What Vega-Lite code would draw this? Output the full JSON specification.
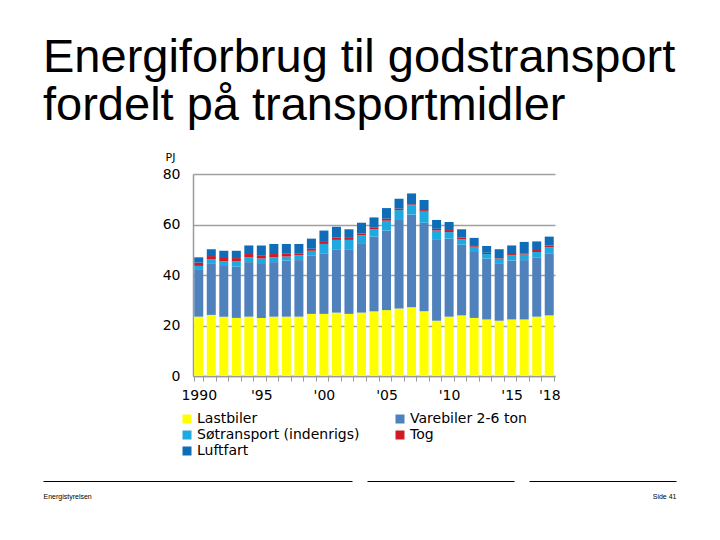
{
  "$schema": "https://vega.github.io/schema/vega-lite/v6.json",
  "background": "white",
  "padding": {"left": 43, "top": 34, "right": 10, "bottom": 10},
  "title": {
    "text": ["Energiforbrug til godstransport", "fordelt på transportmidler"],
    "anchor": "start",
    "frame": "bounds",
    "font": "Liberation Sans",
    "fontSize": 47,
    "fontWeight": "normal",
    "color": "black",
    "lineHeight": 48,
    "offset": 21
  },
  "spacing": 19,
  "resolve": {"legend": {"color": "independent"}},
  "vconcat": [
    {
      "spacing": 0,
      "resolve": {"legend": {"color": "independent"}},
      "hconcat": [
        {
          "width": 119,
          "height": 1,
          "data": {"values": [{"k": "a"}]},
          "mark": {"type": "point", "opacity": 0},
          "encoding": {}
        },
        {
          "width": 362,
          "height": 202,
          "data": {"values": [
            {"year":1990,"type":"Lastbiler","value":23.5},{"year":1990,"type":"Varebiler 2-6 ton","value":18.5},{"year":1990,"type":"Søtransport (indenrigs)","value":1.6},{"year":1990,"type":"Tog","value":1.3},{"year":1990,"type":"Luftfart","value":2.1},
            {"year":1991,"type":"Lastbiler","value":24.2},{"year":1991,"type":"Varebiler 2-6 ton","value":20.2},{"year":1991,"type":"Søtransport (indenrigs)","value":1.8},{"year":1991,"type":"Tog","value":1.3},{"year":1991,"type":"Luftfart","value":2.7},
            {"year":1992,"type":"Lastbiler","value":23.5},{"year":1992,"type":"Varebiler 2-6 ton","value":20.1},{"year":1992,"type":"Søtransport (indenrigs)","value":1.8},{"year":1992,"type":"Tog","value":1.3},{"year":1992,"type":"Luftfart","value":2.9},
            {"year":1993,"type":"Lastbiler","value":23.0},{"year":1993,"type":"Varebiler 2-6 ton","value":20.3},{"year":1993,"type":"Søtransport (indenrigs)","value":2.1},{"year":1993,"type":"Tog","value":1.3},{"year":1993,"type":"Luftfart","value":2.9},
            {"year":1994,"type":"Lastbiler","value":23.5},{"year":1994,"type":"Varebiler 2-6 ton","value":21.6},{"year":1994,"type":"Søtransport (indenrigs)","value":1.9},{"year":1994,"type":"Tog","value":1.3},{"year":1994,"type":"Luftfart","value":3.4},
            {"year":1995,"type":"Lastbiler","value":23.0},{"year":1995,"type":"Varebiler 2-6 ton","value":21.4},{"year":1995,"type":"Søtransport (indenrigs)","value":2.1},{"year":1995,"type":"Tog","value":1.3},{"year":1995,"type":"Luftfart","value":3.9},
            {"year":1996,"type":"Lastbiler","value":23.5},{"year":1996,"type":"Varebiler 2-6 ton","value":21.6},{"year":1996,"type":"Søtransport (indenrigs)","value":1.9},{"year":1996,"type":"Tog","value":1.3},{"year":1996,"type":"Luftfart","value":4.0},
            {"year":1997,"type":"Lastbiler","value":23.5},{"year":1997,"type":"Varebiler 2-6 ton","value":22.2},{"year":1997,"type":"Søtransport (indenrigs)","value":1.6},{"year":1997,"type":"Tog","value":1.3},{"year":1997,"type":"Luftfart","value":3.7},
            {"year":1998,"type":"Lastbiler","value":23.5},{"year":1998,"type":"Varebiler 2-6 ton","value":22.4},{"year":1998,"type":"Søtransport (indenrigs)","value":1.9},{"year":1998,"type":"Tog","value":0.8},{"year":1998,"type":"Luftfart","value":3.7},
            {"year":1999,"type":"Lastbiler","value":24.6},{"year":1999,"type":"Varebiler 2-6 ton","value":23.2},{"year":1999,"type":"Søtransport (indenrigs)","value":1.8},{"year":1999,"type":"Tog","value":0.8},{"year":1999,"type":"Luftfart","value":4.0},
            {"year":2000,"type":"Lastbiler","value":24.6},{"year":2000,"type":"Varebiler 2-6 ton","value":24.0},{"year":2000,"type":"Søtransport (indenrigs)","value":3.7},{"year":2000,"type":"Tog","value":0.8},{"year":2000,"type":"Luftfart","value":4.5},
            {"year":2001,"type":"Lastbiler","value":25.1},{"year":2001,"type":"Varebiler 2-6 ton","value":25.1},{"year":2001,"type":"Søtransport (indenrigs)","value":3.7},{"year":2001,"type":"Tog","value":1.0},{"year":2001,"type":"Luftfart","value":4.2},
            {"year":2002,"type":"Lastbiler","value":24.6},{"year":2002,"type":"Varebiler 2-6 ton","value":25.6},{"year":2002,"type":"Søtransport (indenrigs)","value":3.7},{"year":2002,"type":"Tog","value":0.8},{"year":2002,"type":"Luftfart","value":3.4},
            {"year":2003,"type":"Lastbiler","value":25.1},{"year":2003,"type":"Varebiler 2-6 ton","value":27.2},{"year":2003,"type":"Søtransport (indenrigs)","value":3.4},{"year":2003,"type":"Tog","value":0.8},{"year":2003,"type":"Luftfart","value":4.2},
            {"year":2004,"type":"Lastbiler","value":25.6},{"year":2004,"type":"Varebiler 2-6 ton","value":29.6},{"year":2004,"type":"Søtransport (indenrigs)","value":2.9},{"year":2004,"type":"Tog","value":0.8},{"year":2004,"type":"Luftfart","value":3.9},
            {"year":2005,"type":"Lastbiler","value":26.1},{"year":2005,"type":"Varebiler 2-6 ton","value":31.5},{"year":2005,"type":"Søtransport (indenrigs)","value":3.9},{"year":2005,"type":"Tog","value":0.8},{"year":2005,"type":"Luftfart","value":4.2},
            {"year":2006,"type":"Lastbiler","value":26.7},{"year":2006,"type":"Varebiler 2-6 ton","value":35.1},{"year":2006,"type":"Søtransport (indenrigs)","value":3.9},{"year":2006,"type":"Tog","value":0.6},{"year":2006,"type":"Luftfart","value":3.9},
            {"year":2007,"type":"Lastbiler","value":27.2},{"year":2007,"type":"Varebiler 2-6 ton","value":36.7},{"year":2007,"type":"Søtransport (indenrigs)","value":3.7},{"year":2007,"type":"Tog","value":0.4},{"year":2007,"type":"Luftfart","value":4.3},
            {"year":2008,"type":"Lastbiler","value":25.6},{"year":2008,"type":"Varebiler 2-6 ton","value":35.1},{"year":2008,"type":"Søtransport (indenrigs)","value":4.4},{"year":2008,"type":"Tog","value":0.6},{"year":2008,"type":"Luftfart","value":4.0},
            {"year":2009,"type":"Lastbiler","value":21.9},{"year":2009,"type":"Varebiler 2-6 ton","value":32.0},{"year":2009,"type":"Søtransport (indenrigs)","value":3.7},{"year":2009,"type":"Tog","value":0.7},{"year":2009,"type":"Luftfart","value":3.5},
            {"year":2010,"type":"Lastbiler","value":23.5},{"year":2010,"type":"Varebiler 2-6 ton","value":30.9},{"year":2010,"type":"Søtransport (indenrigs)","value":2.6},{"year":2010,"type":"Tog","value":0.8},{"year":2010,"type":"Luftfart","value":3.2},
            {"year":2011,"type":"Lastbiler","value":24.0},{"year":2011,"type":"Varebiler 2-6 ton","value":28.0},{"year":2011,"type":"Søtransport (indenrigs)","value":2.1},{"year":2011,"type":"Tog","value":0.8},{"year":2011,"type":"Luftfart","value":3.2},
            {"year":2012,"type":"Lastbiler","value":23.0},{"year":2012,"type":"Varebiler 2-6 ton","value":26.1},{"year":2012,"type":"Søtransport (indenrigs)","value":2.1},{"year":2012,"type":"Tog","value":0.3},{"year":2012,"type":"Luftfart","value":3.2},
            {"year":2013,"type":"Lastbiler","value":22.4},{"year":2013,"type":"Varebiler 2-6 ton","value":24.1},{"year":2013,"type":"Søtransport (indenrigs)","value":1.8},{"year":2013,"type":"Tog","value":0.5},{"year":2013,"type":"Luftfart","value":2.7},
            {"year":2014,"type":"Lastbiler","value":21.9},{"year":2014,"type":"Varebiler 2-6 ton","value":22.5},{"year":2014,"type":"Søtransport (indenrigs)","value":2.1},{"year":2014,"type":"Tog","value":0.2},{"year":2014,"type":"Luftfart","value":3.5},
            {"year":2015,"type":"Lastbiler","value":22.4},{"year":2015,"type":"Varebiler 2-6 ton","value":23.3},{"year":2015,"type":"Søtransport (indenrigs)","value":2.1},{"year":2015,"type":"Tog","value":0.5},{"year":2015,"type":"Luftfart","value":3.4},
            {"year":2016,"type":"Lastbiler","value":22.4},{"year":2016,"type":"Varebiler 2-6 ton","value":23.5},{"year":2016,"type":"Søtransport (indenrigs)","value":2.2},{"year":2016,"type":"Tog","value":0.5},{"year":2016,"type":"Luftfart","value":4.5},
            {"year":2017,"type":"Lastbiler","value":23.5},{"year":2017,"type":"Varebiler 2-6 ton","value":23.5},{"year":2017,"type":"Søtransport (indenrigs)","value":2.1},{"year":2017,"type":"Tog","value":0.8},{"year":2017,"type":"Luftfart","value":3.4},
            {"year":2018,"type":"Lastbiler","value":24.0},{"year":2018,"type":"Varebiler 2-6 ton","value":24.6},{"year":2018,"type":"Søtransport (indenrigs)","value":2.4},{"year":2018,"type":"Tog","value":0.7},{"year":2018,"type":"Luftfart","value":3.5}
          ]},
          "transform": [
            {"calculate": "indexof(['Lastbiler','Varebiler 2-6 ton','Søtransport (indenrigs)','Tog','Luftfart'], datum.type)", "as": "type_order"}
          ],
          "mark": {"type": "bar"},
          "encoding": {
            "x": {
              "field": "year", "type": "ordinal",
              "scale": {"paddingInner": 0.28, "paddingOuter": 0.1},
              "axis": {
                "title": null,
                "labelAngle": 0,
                "labelOverlap": false,
                "labelExpr": "datum.value == 1990 ? '1990' : (indexof([1995,2000,2005,2010,2015,2018], datum.value) >= 0 ? \"'\" + substring(toString(datum.value), 2) : '')",
                "labelFont": "DejaVu Sans", "labelFontSize": 14, "labelColor": "black",
                "labelPadding": 7,
                "tickBand": "extent", "tickSize": 5, "tickColor": "#9a9a9a",
                "domainColor": "#9a9a9a", "domainWidth": 1.5,
                "grid": false
              }
            },
            "y": {
              "field": "value", "type": "quantitative", "stack": "zero",
              "scale": {"domain": [0, 80], "nice": false},
              "axis": {
                "title": "PJ", "titleAngle": 0, "titleAlign": "left", "titleBaseline": "middle",
                "titleX": -28, "titleY": -17, "titleFont": "DejaVu Sans", "titleFontSize": 11,
                "titleFontWeight": "normal", "titleColor": "black",
                "values": [0, 20, 40, 60, 80],
                "ticks": false, "labelPadding": 13,
                "labelFont": "DejaVu Sans", "labelFontSize": 14, "labelColor": "black",
                "domainColor": "#9a9a9a", "domainWidth": 1.5,
                "grid": true, "gridColor": "#a0a0a0", "gridWidth": 1.5
              }
            },
            "color": {
              "field": "type", "type": "nominal",
              "sort": ["Lastbiler", "Varebiler 2-6 ton", "Søtransport (indenrigs)", "Tog", "Luftfart"],
              "scale": {
                "domain": ["Lastbiler", "Varebiler 2-6 ton", "Søtransport (indenrigs)", "Tog", "Luftfart"],
                "range": ["#FFFF00", "#4F81BD", "#1EA9E1", "#D01A24", "#0F6CB6"]
              },
              "legend": {
                "title": null, "orient": "none", "legendX": -13, "legendY": 238,
                "direction": "horizontal",
                "columns": 2, "columnPadding": 33, "rowPadding": 2,
                "symbolType": "square", "symbolSize": 81, "symbolStrokeWidth": 0,
                "labelFont": "DejaVu Sans", "labelFontSize": 14, "labelColor": "black",
                "labelOffset": 3, "labelLimit": 300
              }
            },
            "order": {"field": "type_order", "type": "quantitative"}
          }
        }
      ]
    },
    {
      "spacing": 15,
      "hconcat": [
        {
          "width": 309, "height": 1,
          "data": {"values": [{"k": "a"}]},
          "mark": {"type": "point", "opacity": 0},
          "encoding": {"x": {"field": "k", "type": "nominal", "axis": {
            "title": "Energistyrelsen", "titleAnchor": "start", "titleFont": "Liberation Sans",
            "titleFontSize": 7, "titleFontWeight": "normal", "titleColor": "black", "titlePadding": 11,
            "labels": false, "ticks": false, "domainColor": "black", "domainWidth": 1
          }}}
        },
        {
          "width": 147, "height": 1,
          "data": {"values": [{"k": "a"}]},
          "mark": {"type": "point", "opacity": 0},
          "encoding": {"x": {"field": "k", "type": "nominal", "axis": {
            "title": null, "labels": false, "ticks": false, "domainColor": "black", "domainWidth": 1
          }}}
        },
        {
          "width": 147, "height": 1,
          "data": {"values": [{"k": "a"}]},
          "mark": {"type": "point", "opacity": 0},
          "encoding": {"x": {"field": "k", "type": "nominal", "axis": {
            "title": "Side 41", "titleAnchor": "end", "titleFont": "Liberation Sans",
            "titleFontSize": 7, "titleFontWeight": "normal", "titleColor": "black", "titlePadding": 11,
            "labels": false, "ticks": false, "domainColor": "black", "domainWidth": 1
          }}}
        }
      ]
    }
  ],
  "config": {"view": {"stroke": null}}
}
